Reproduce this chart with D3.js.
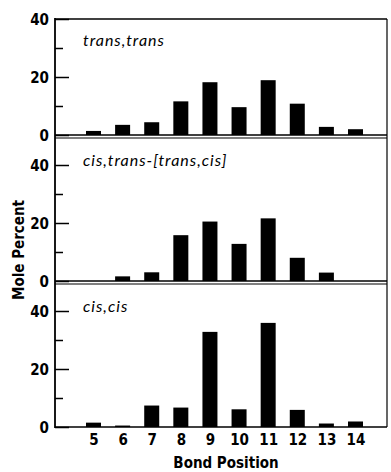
<!DOCTYPE html>
<html>
<head>
<meta charset="utf-8">
<script src="https://cdn.jsdelivr.net/npm/d3@7"></script>
<style>
  body { margin: 0; background: #fff; }
  .axis text { font-family: "Liberation Sans Narrow", "DejaVu Sans Condensed", sans-serif; font-weight: bold; font-size: 15px; fill: #000; }
  .title { font-family: "Lato", "Open Sans", sans-serif; font-style: italic; font-size: 16px; letter-spacing: 1px; fill: #000; }
  .label { font-family: "Liberation Sans Narrow", "DejaVu Sans Condensed", sans-serif; font-weight: bold; font-size: 15px; fill: #000; }
</style>
</head>
<body>
<svg id="chart" width="391" height="472"></svg>
<script>
// bond positions along the x axis
const positions = [5, 6, 7, 8, 9, 10, 11, 12, 13, 14];

// mole percent per panel
const transTrans = [1.4, 3.5, 4.4, 11.6, 18.2, 9.6, 18.9, 10.8, 2.8, 2.0];
const cisTrans   = [0, 1.6, 3.0, 15.8, 20.5, 12.8, 21.6, 8.0, 2.9, 0];
const cisCis     = [1.5, 0.5, 7.4, 6.7, 32.8, 6.1, 35.9, 5.9, 1.2, 1.9];

const panelTitles = ["trans,trans", "cis,trans-[trans,cis]", "cis,cis"];
const yTicks = [0, 10, 20, 30, 40];

const svg = d3.select("#chart");
const left = 55, right = 387;
const pxPerUnit = 2.9;

const panels = [
    {title: panelTitles[0], values: transTrans, zero: 135, max: 40},
    {title: panelTitles[1], values: cisTrans, zero: 281, max: 49},
    {title: panelTitles[2], values: cisCis, zero: 427, max: 49}
];

const x = d3.scalePoint().domain(positions).range([93.5, 355.5]);
const barWidth = 15;

panels.forEach((p, i) => {
    const y = d3.scaleLinear().domain([0, p.max]).range([p.zero, p.zero - p.max * pxPerUnit]);
    const g = svg.append("g");

    // bars
    g.selectAll("rect")
        .data(p.values.map((v, j) => ({pos: positions[j], v: v})))
        .enter().append("rect")
        .attr("x", d => x(d.pos) - barWidth / 2)
        .attr("y", d => y(d.v))
        .attr("width", barWidth)
        .attr("height", d => p.zero - y(d.v))
        .attr("fill", "#000");

    // baseline
    g.append("line")
        .attr("x1", left).attr("x2", right)
        .attr("y1", y(0)).attr("y2", y(0))
        .attr("stroke", "#000").attr("stroke-width", 1.3);

    // divider below panel (not for last one)
    if (i < panels.length - 1) {
        g.append("line")
            .attr("x1", left).attr("x2", right)
            .attr("y1", p.zero + 3).attr("y2", p.zero + 3)
            .attr("stroke", "#000").attr("stroke-width", 1.2);
    }

    // y axis, ticks pointing inward
    const yAxis = d3.axisLeft(y)
        .tickValues(yTicks)
        .tickSize(-14)
        .tickPadding(6)
        .tickFormat(d => d % 20 === 0 ? d : "");
    const ax = g.append("g")
        .attr("class", "axis")
        .attr("transform", "translate(" + left + ",0)")
        .call(yAxis);
    ax.select(".domain").remove();
    ax.selectAll(".tick line")
        .attr("stroke-width", 1.5)
        .attr("x2", d => d % 20 === 0 ? 14 : 8);
    ax.selectAll(".tick text").attr("dy", "0.36em");

    // panel title, just below the panel top
    g.append("text")
        .attr("class", "title")
        .attr("x", 83)
        .attr("y", y(p.max) + 27)
        .text(p.title);
});

// frame: left axis line, top line, right border
svg.append("line").attr("x1", left).attr("x2", left).attr("y1", 18).attr("y2", 428)
    .attr("stroke", "#000").attr("stroke-width", 1.8);
svg.append("line").attr("x1", left).attr("x2", right).attr("y1", 19).attr("y2", 19)
    .attr("stroke", "#000").attr("stroke-width", 1.3);
svg.append("line").attr("x1", right).attr("x2", right).attr("y1", 19).attr("y2", 427)
    .attr("stroke", "#000").attr("stroke-width", 1.2);

// x axis labels
const xAxis = d3.axisBottom(x).tickSize(0).tickPadding(7);
const xa = svg.append("g")
    .attr("class", "axis")
    .attr("transform", "translate(0,427)")
    .call(xAxis);
xa.select(".domain").remove();

svg.append("text")
    .attr("class", "label")
    .attr("x", 226)
    .attr("y", 468)
    .attr("text-anchor", "middle")
    .text("Bond Position");

svg.append("text")
    .attr("class", "label")
    .attr("transform", "translate(24,250) rotate(-90)")
    .attr("text-anchor", "middle")
    .text("Mole Percent");
</script>
</body>
</html>
